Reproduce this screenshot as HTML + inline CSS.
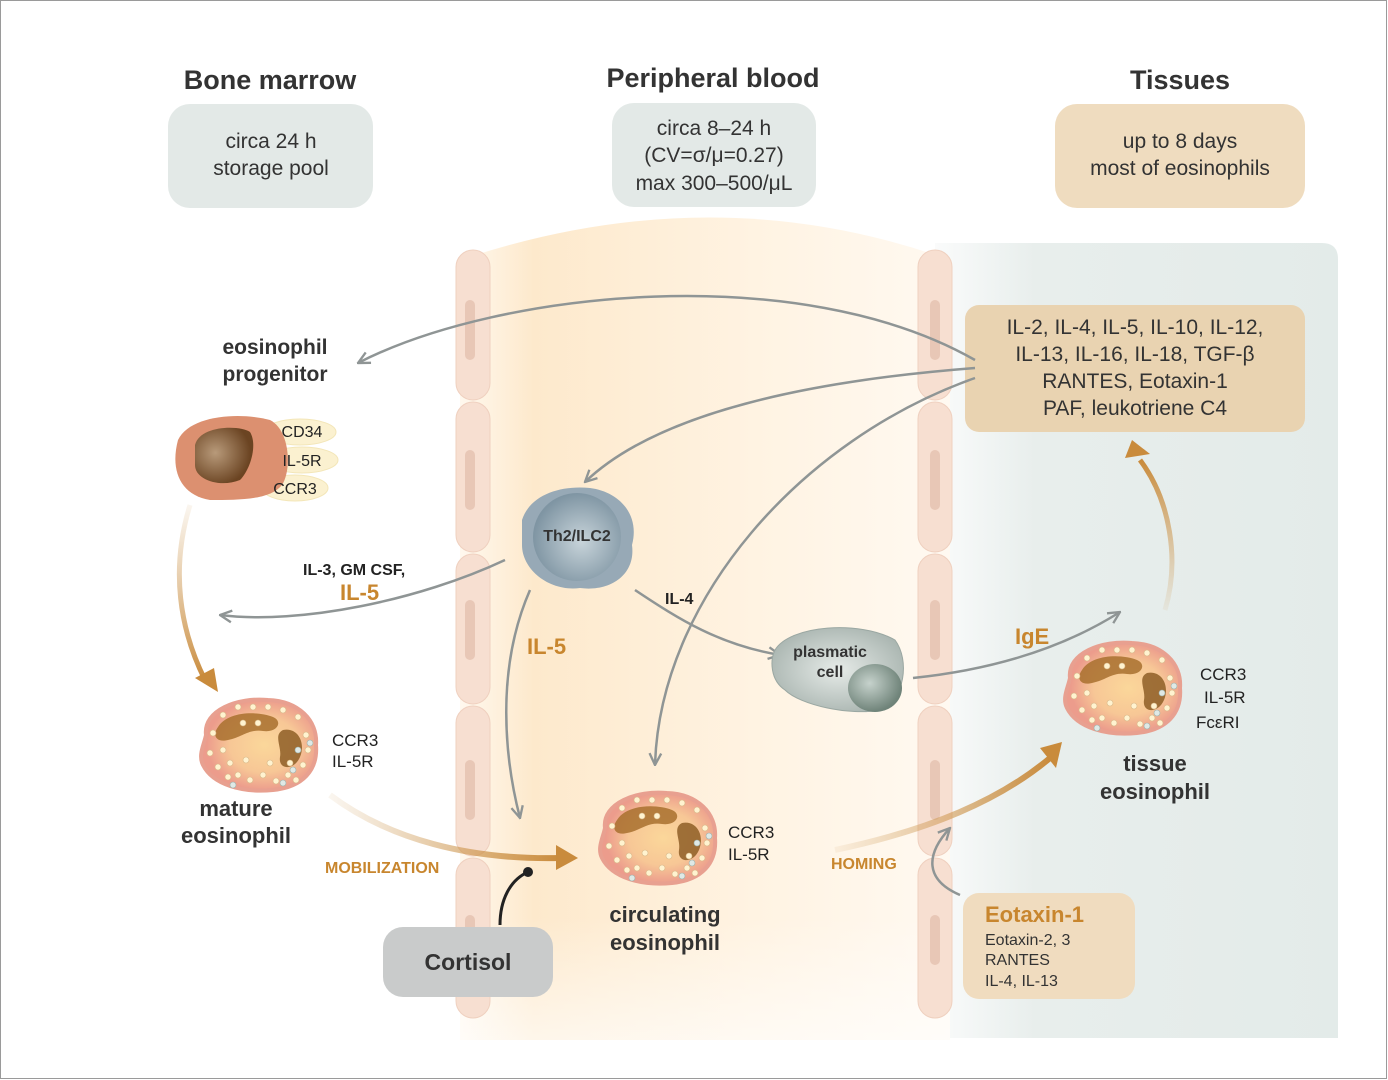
<!DOCTYPE html>
<html><head><meta charset="utf-8"><style>
html,body{margin:0;padding:0;background:#fff;}
svg{display:block;}
text{font-family:"Liberation Sans",sans-serif;}
</style></head><body>
<svg width="1388" height="1080" viewBox="0 0 1388 1080" xmlns="http://www.w3.org/2000/svg">
<defs>
<linearGradient id="tis" x1="0" x2="1" y1="0" y2="0">
<stop offset="0" stop-color="#fafbfb"/><stop offset="0.25" stop-color="#e8eeec"/><stop offset="1" stop-color="#e3ebe9"/></linearGradient>
<linearGradient id="vessel" x1="0" x2="1" y1="0" y2="0">
<stop offset="0" stop-color="#fff8ee"/><stop offset="0.15" stop-color="#fde9cc"/><stop offset="0.6" stop-color="#fff3e2"/><stop offset="1" stop-color="#fff9f1"/></linearGradient>
<linearGradient id="vfade" x1="0" x2="0" y1="0" y2="1">
<stop offset="0.85" stop-color="#fff" stop-opacity="0"/><stop offset="1" stop-color="#fff" stop-opacity="0.6"/></linearGradient>
<radialGradient id="eoc" cx="0.55" cy="0.5" r="0.5"><stop offset="0" stop-color="#fbd79a"/><stop offset="0.6" stop-color="#f7c796"/><stop offset="1" stop-color="#ec9c8c"/></radialGradient>
<radialGradient id="nuc" cx="0.35" cy="0.45" r="0.6"><stop offset="0" stop-color="#b89a7a"/><stop offset="1" stop-color="#6b4422"/></radialGradient>
<radialGradient id="th2" cx="0.55" cy="0.55" r="0.55"><stop offset="0" stop-color="#c8d4da"/><stop offset="1" stop-color="#7f95a3"/></radialGradient>
<radialGradient id="pl" cx="0.5" cy="0.5" r="0.6"><stop offset="0" stop-color="#e6ebe8"/><stop offset="1" stop-color="#a5b1ac"/></radialGradient>
<radialGradient id="pn" cx="0.4" cy="0.4" r="0.6"><stop offset="0" stop-color="#c6d2cc"/><stop offset="1" stop-color="#6f8379"/></radialGradient>
<linearGradient id="mob" x1="0" x2="1"><stop offset="0" stop-color="#d2a364" stop-opacity="0.1"/><stop offset="1" stop-color="#c98b3c"/></linearGradient>
<linearGradient id="vert" x1="0" x2="0" y1="0" y2="1"><stop offset="0" stop-color="#d2a364" stop-opacity="0.1"/><stop offset="1" stop-color="#c98b3c"/></linearGradient>
<linearGradient id="vertup" x1="0" x2="0" y1="1" y2="0"><stop offset="0" stop-color="#d2a364" stop-opacity="0.1"/><stop offset="1" stop-color="#c98b3c"/></linearGradient>
<g id="eos">
<path d="M-52,-10 C-55,-35 -20,-48 10,-45 C40,-44 60,-25 58,0 C60,25 45,42 15,45 C-15,48 -45,40 -55,20 C-60,10 -54,0 -52,-10Z" fill="url(#eoc)" stroke="#e8a090" stroke-width="4"/>
<path d="M-40,-18 C-30,-34 0,-34 15,-28 C25,-24 20,-12 5,-14 C-10,-16 -15,-8 -30,-5 C-42,-2 -46,-10 -40,-18Z" fill="#a8702e" opacity="0.85"/>
<path d="M25,-15 C40,-18 48,-2 42,12 C36,26 20,25 22,12 C24,2 15,-10 25,-15Z" fill="#8e5e26" opacity="0.85"/>
<g fill="#fff3d0" stroke="#d9b98a" stroke-width="0.6">
<circle cx="-35" cy="5" r="3"/><circle cx="-28" cy="18" r="3"/><circle cx="-40" cy="22" r="3"/><circle cx="-20" cy="30" r="3"/><circle cx="-8" cy="35" r="3"/><circle cx="5" cy="30" r="3"/><circle cx="18" cy="36" r="3"/><circle cx="30" cy="30" r="3"/><circle cx="45" cy="20" r="3"/><circle cx="50" cy="5" r="3"/><circle cx="48" cy="-10" r="3"/><circle cx="40" cy="-28" r="3"/><circle cx="25" cy="-35" r="3"/><circle cx="10" cy="-38" r="3"/><circle cx="-5" cy="-38" r="3"/><circle cx="-20" cy="-38" r="3"/><circle cx="-35" cy="-30" r="3"/><circle cx="-45" cy="-12" r="3"/><circle cx="-15" cy="-22" r="3"/><circle cx="0" cy="-22" r="3"/><circle cx="-12" cy="15" r="3"/><circle cx="-30" cy="32" r="3"/><circle cx="32" cy="18" r="3"/><circle cx="38" cy="35" r="3"/><circle cx="-48" cy="8" r="3"/><circle cx="12" cy="18" r="3"/>
</g>
<g fill="#dfe9e6" stroke="#9fb3ad" stroke-width="0.6"><circle cx="40" cy="5" r="3"/><circle cx="35" cy="25" r="3"/><circle cx="25" cy="38" r="3"/><circle cx="52" cy="-2" r="3"/><circle cx="-25" cy="40" r="3"/></g>
</g>
<marker id="ag" viewBox="0 0 12 12" refX="11" refY="6" markerWidth="14" markerHeight="14" markerUnits="userSpaceOnUse" orient="auto"><path d="M1,1 L11,6 L1,11" fill="none" stroke="#8f9595" stroke-width="2"/></marker>
</defs>
<rect x="0.5" y="0.5" width="1386" height="1078" fill="#fff" stroke="#9a9a9a"/>
<!-- tissue panel -->
<path d="M935,243 H1322 Q1338,243 1338,259 V1038 H935 Z" fill="url(#tis)"/>
<!-- vessel -->
<path d="M460,260 Q713,175 950,260 V1040 H460 Z" fill="url(#vessel)"/>
<path d="M460,260 Q713,175 950,260 V1040 H460 Z" fill="url(#vfade)"/>
<!-- wall cells -->
<g fill="#f7dfd1" stroke="#efd0bf" stroke-width="1">
<rect x="456" y="250" width="34" height="150" rx="17"/><rect x="456" y="402" width="34" height="150" rx="17"/><rect x="456" y="554" width="34" height="150" rx="17"/><rect x="456" y="706" width="34" height="150" rx="17"/><rect x="456" y="858" width="34" height="160" rx="17"/>
<rect x="918" y="250" width="34" height="150" rx="17"/><rect x="918" y="402" width="34" height="150" rx="17"/><rect x="918" y="554" width="34" height="150" rx="17"/><rect x="918" y="706" width="34" height="150" rx="17"/><rect x="918" y="858" width="34" height="160" rx="17"/>
</g>
<g fill="#e8c7b6"><rect x="465" y="300" width="10" height="60" rx="5"/><rect x="465" y="450" width="10" height="60" rx="5"/><rect x="465" y="600" width="10" height="60" rx="5"/><rect x="465" y="760" width="10" height="60" rx="5"/><rect x="465" y="915" width="10" height="50" rx="5"/>
<rect x="930" y="300" width="10" height="60" rx="5"/><rect x="930" y="450" width="10" height="60" rx="5"/><rect x="930" y="600" width="10" height="60" rx="5"/><rect x="930" y="760" width="10" height="60" rx="5"/><rect x="930" y="915" width="10" height="50" rx="5"/></g>
<!-- titles -->
<g font-weight="bold" font-size="27" fill="#333" text-anchor="middle">
<text x="270" y="89">Bone marrow</text><text x="713" y="87">Peripheral blood</text><text x="1180" y="89">Tissues</text></g>
<rect x="168" y="104" width="205" height="104" rx="22" fill="#e3e9e7"/>
<rect x="612" y="103" width="204" height="104" rx="22" fill="#e3e9e7"/>
<rect x="1055" y="104" width="250" height="104" rx="22" fill="#efdcbf"/>
<g font-size="21" fill="#333" text-anchor="middle">
<text x="271" y="148">circa 24 h</text><text x="271" y="175">storage pool</text>
<text x="714" y="135">circa 8–24 h</text><text x="714" y="162">(CV=σ/μ=0.27)</text><text x="714" y="190">max 300–500/μL</text>
<text x="1180" y="148">up to 8 days</text><text x="1180" y="175">most of eosinophils</text></g>
<!-- cytokine box -->
<rect x="965" y="305" width="340" height="127" rx="14" fill="#e9d3b1"/>
<g font-size="21" fill="#333" text-anchor="middle">
<text x="1135" y="334">IL-2, IL-4, IL-5, IL-10, IL-12,</text><text x="1135" y="361">IL-13, IL-16, IL-18, TGF-β</text><text x="1135" y="388">RANTES, Eotaxin-1</text><text x="1135" y="415">PAF, leukotriene C4</text></g>
<!-- eotaxin box -->
<rect x="963" y="893" width="172" height="106" rx="16" fill="#f0dcbf"/>
<text x="985" y="922" font-size="22" font-weight="bold" fill="#c8862e">Eotaxin-1</text>
<g font-size="16" fill="#333"><text x="985" y="945">Eotaxin-2, 3</text><text x="985" y="965">RANTES</text><text x="985" y="986">IL-4, IL-13</text></g>
<!-- cortisol -->
<rect x="383" y="927" width="170" height="70" rx="20" fill="#c9cbcb"/>
<text x="468" y="970" font-size="23" font-weight="bold" fill="#333" text-anchor="middle">Cortisol</text>
<path d="M500,925 C500,900 510,880 528,872" fill="none" stroke="#222" stroke-width="3"/><circle cx="528" cy="872" r="5" fill="#222"/>
<!-- gray arrows -->
<g fill="none" stroke="#8f9595" stroke-width="2.5" marker-end="url(#ag)">
<path d="M975,360 C800,260 500,290 358,363"/>
<path d="M975,368 C820,380 660,410 585,482"/>
<path d="M975,378 C800,440 660,600 655,765"/>
<path d="M505,560 C420,600 300,625 220,615"/>
<path d="M530,590 C495,670 505,760 520,818"/>
<path d="M635,590 C680,620 720,645 780,655"/>
<path d="M913,678 C990,670 1060,650 1120,612"/>
<path d="M960,895 C925,880 925,855 950,828"/>
</g>
<!-- orange arrows -->
<path d="M190,505 C170,570 180,630 205,680" fill="none" stroke="url(#vert)" stroke-width="5"/>
<path d="M195,678 L218,692 L214,668 Z" fill="#c98b3c"/>
<path d="M330,795 C390,840 470,860 560,858" fill="none" stroke="url(#mob)" stroke-width="6"/>
<path d="M556,845 L578,858 L556,870 Z" fill="#c98b3c"/>
<path d="M835,850 C930,830 1000,800 1050,758" fill="none" stroke="url(#mob)" stroke-width="6"/>
<path d="M1040,748 L1062,742 L1056,768 Z" fill="#c98b3c"/>
<path d="M1165,610 C1180,560 1170,500 1140,460" fill="none" stroke="url(#vertup)" stroke-width="5"/>
<path d="M1125,458 L1132,440 L1150,454 Z" fill="#c98b3c"/>
<!-- progenitor -->
<g fill="#fbf1d0" stroke="#f3e6b8"><ellipse cx="300" cy="432" rx="36" ry="13"/><ellipse cx="302" cy="460" rx="36" ry="13"/><ellipse cx="295" cy="488" rx="33" ry="13"/></g>
<path d="M178,440 C190,415 240,412 270,420 C290,430 292,470 282,485 C270,500 240,500 210,500 C180,495 170,470 178,440Z" fill="#dc9070"/>
<path d="M195,445 C200,425 240,425 250,432 C258,445 250,470 240,480 C220,488 195,480 195,465Z" fill="url(#nuc)"/>
<g font-size="16" fill="#222" text-anchor="middle"><text x="302" y="437">CD34</text><text x="302" y="466">IL-5R</text><text x="295" y="494">CCR3</text></g>
<g font-size="21" font-weight="bold" fill="#333" text-anchor="middle"><text x="275" y="354">eosinophil</text><text x="275" y="381">progenitor</text></g>
<!-- Th2 -->
<path d="M522,520 C530,495 560,485 590,488 C620,492 640,515 632,545 C636,575 610,592 580,588 C550,592 522,570 522,545Z" fill="#97a9b6"/>
<circle cx="577" cy="537" r="44" fill="url(#th2)"/>
<text x="577" y="541" font-size="16" font-weight="bold" fill="#333" text-anchor="middle">Th2/ILC2</text>
<!-- plasmatic -->
<path d="M775,650 C790,625 860,620 895,640 C910,660 905,700 880,710 C850,716 800,705 785,690 C770,680 770,660 775,650Z" fill="url(#pl)" stroke="#9aa7a2"/>
<ellipse cx="875" cy="688" rx="27" ry="24" fill="url(#pn)"/>
<g font-size="16" font-weight="bold" fill="#333" text-anchor="middle"><text x="830" y="657">plasmatic</text><text x="830" y="677">cell</text></g>
<!-- eosinophils -->
<use href="#eos" transform="translate(258,745)"/>
<use href="#eos" transform="translate(657,838)"/>
<use href="#eos" transform="translate(1122,688)"/>
<g font-size="17" fill="#222"><text x="332" y="746">CCR3</text><text x="332" y="767">IL-5R</text>
<text x="728" y="838">CCR3</text><text x="728" y="860">IL-5R</text>
<text x="1200" y="680">CCR3</text><text x="1204" y="703">IL-5R</text><text x="1196" y="728">FcεRI</text></g>
<g font-size="22" font-weight="bold" fill="#333" text-anchor="middle">
<text x="236" y="816">mature</text><text x="236" y="843">eosinophil</text>
<text x="665" y="922">circulating</text><text x="665" y="950">eosinophil</text>
<text x="1155" y="771">tissue</text><text x="1155" y="799">eosinophil</text></g>
<!-- labels -->
<g font-weight="bold" fill="#c8862e">
<text x="325" y="873" font-size="16">MOBILIZATION</text>
<text x="831" y="869" font-size="16">HOMING</text>
<text x="340" y="600" font-size="22">IL-5</text>
<text x="527" y="654" font-size="22">IL-5</text>
<text x="1015" y="644" font-size="22">IgE</text></g>
<text x="303" y="575" font-size="16" font-weight="bold" fill="#222">IL-3, GM CSF,</text>
<text x="665" y="604" font-size="16" font-weight="bold" fill="#222">IL-4</text>
</svg>
</body></html>
